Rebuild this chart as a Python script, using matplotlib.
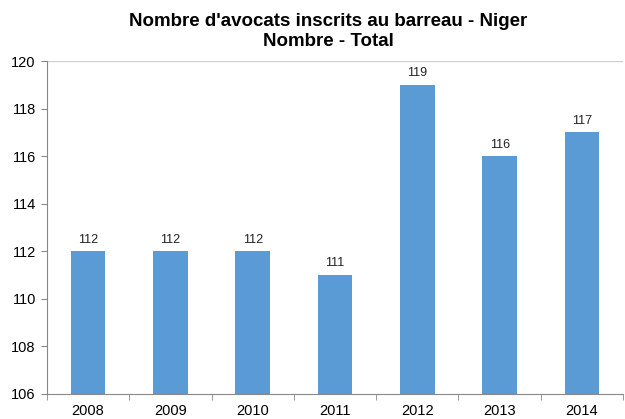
import matplotlib
matplotlib.use("Agg")
import matplotlib.pyplot as plt
import numpy as np

years = ["2008", "2009", "2010", "2011", "2012", "2013", "2014"]
counts = [112, 112, 112, 111, 119, 116, 117]

plt.rcParams["font.family"] = ["Liberation Sans", "DejaVu Sans"]

fig = plt.figure(figsize=(6.25, 4.19), dpi=100)
ax = fig.add_axes([0.075, 0.06, 0.922, 0.794])

x = np.arange(len(years))
bars = ax.bar(x, counts, width=0.42, color="#5B9BD5", zorder=2)
for xi, v in zip(x, counts):
    ax.annotate(str(v), (xi, v), xytext=(0, 4), textcoords="offset points",
                ha="center", va="bottom", fontsize=9, color="#222222")

ax.set_ylim(106, 120)
ax.set_yticks(range(106, 121, 2))
ax.set_xlim(-0.5, len(years) - 0.5)
ax.set_xticks(x)
ax.set_xticklabels(years)
ax.set_xticks(np.arange(-0.5, len(years)), minor=True)
ax.tick_params(axis="x", which="major", length=0, labelsize=10.5, pad=7)
ax.tick_params(axis="x", which="minor", length=4, color="#888888")
ax.tick_params(axis="y", length=4, color="#888888", labelsize=10.5, pad=4)

ax.axhline(120, color="#D0D0D0", linewidth=1, zorder=1)
for side in ["top", "right"]:
    ax.spines[side].set_visible(False)
for side in ["left", "bottom"]:
    ax.spines[side].set_color("#888888")

fig.text(0.525, 0.97, "Nombre d'avocats inscrits au barreau - Niger\nNombre - Total",
         fontsize=13.5, fontweight="bold", ha="center", va="top", linespacing=1.3)

fig.savefig("out.png", dpi=100)
